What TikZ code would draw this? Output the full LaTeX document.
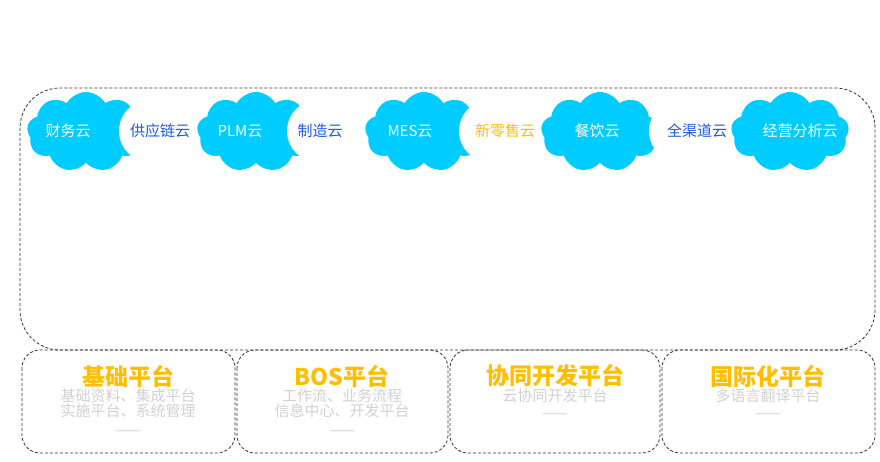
\documentclass[tikz,border=0pt]{standalone}
\usepackage{fontspec}
\newfontfamily\cjk{Noto Sans CJK SC}
\usetikzlibrary{shapes.symbols,positioning}
\definecolor{cloudblue}{RGB}{0,204,255}
\definecolor{labelblue}{RGB}{30,90,230}
\definecolor{gold}{RGB}{255,190,0}
\begin{document}
\begin{tikzpicture}[
        x=1pt, y=-1pt,
        font=\cjk,
        frame/.style={draw=black!80, dash pattern=on 3pt off 2pt, line width=0.8pt},
        cloudy/.style={cloud, cloud puffs=9, cloud puff arc=120, aspect=1.4, fill=cloudblue, draw=none, minimum width=118pt, minimum height=80pt, inner sep=0pt},
        bite/.style={circle, fill=white, minimum size=62pt, inner sep=0pt},
        cloudtext/.style={text=white, font=\cjk\fontsize{15}{17}\selectfont},
        cloudlabel/.style={text=labelblue, font=\cjk\fontsize{15}{17}\selectfont},
        title/.style={text=gold, font=\cjk\bfseries\fontsize{23}{26}\selectfont},
        desc/.style={text=black!18, font=\cjk\fontsize{15}{17}\selectfont, align=center},
    ]
        \useasboundingbox (0,0) rectangle (880,462);
        \draw[frame, rounded corners=40pt] (20,88) rectangle (875,350);

        % clouds
        \node[cloudy] (c1) at (86,132) {};
        \node[cloudy] (c2) at (256,132) {};
        \node[cloudy] (c3) at (424,132) {};
        \node[cloudy] (c4) at (600,132) {};
        \node[cloudy] (c5) at (790,132) {};
        \node[bite] (b1) at (150,131) {};
        \node[bite] (b2) at (318,131) {};
        \node[bite] (b3) at (490,131) {};
        \node[bite] (b4) at (680,131) {};

        \node[cloudtext] at (68,131) {财务云};
        \node[cloudtext] at (240,131) {PLM云};
        \node[cloudtext] at (410,131) {MES云};
        \node[cloudtext] at (597,131) {餐饮云};
        \node[cloudtext] at (800,131) {经营分析云};
        \node[cloudlabel] at (160,131) {供应链云};
        \node[cloudlabel] at (320,131) {制造云};
        \node[cloudlabel, text=gold] at (505,131) {新零售云};
        \node[cloudlabel] at (697,131) {全渠道云};

        % platforms
        \draw[frame, rounded corners=18pt] (22,350) rectangle (235,453);
        \draw[frame, rounded corners=18pt] (237,350) rectangle (448,453);
        \draw[frame, rounded corners=18pt] (450,350) rectangle (660,453);
        \draw[frame, rounded corners=18pt] (662,350) rectangle (875,453);

        \node[title] (t1) at (128,376) {基础平台};
        \node[title] (t2) at (342,376) {BOS平台};
        \node[title] (t3) at (555,376) {协同开发平台};
        \node[title] (t4) at (768,376) {国际化平台};
        \node[desc, below=-5pt of t1] {基础资料、集成平台\\[-2pt]实施平台、系统管理\\[2pt]——};
        \node[desc, below=-5pt of t2] {工作流、业务流程\\[-2pt]信息中心、开发平台\\[2pt]——};
        \node[desc, below=-5pt of t3] {云协同开发平台\\——};
        \node[desc, below=-5pt of t4] {多语言翻译平台\\——};
\end{tikzpicture}
\end{document}
